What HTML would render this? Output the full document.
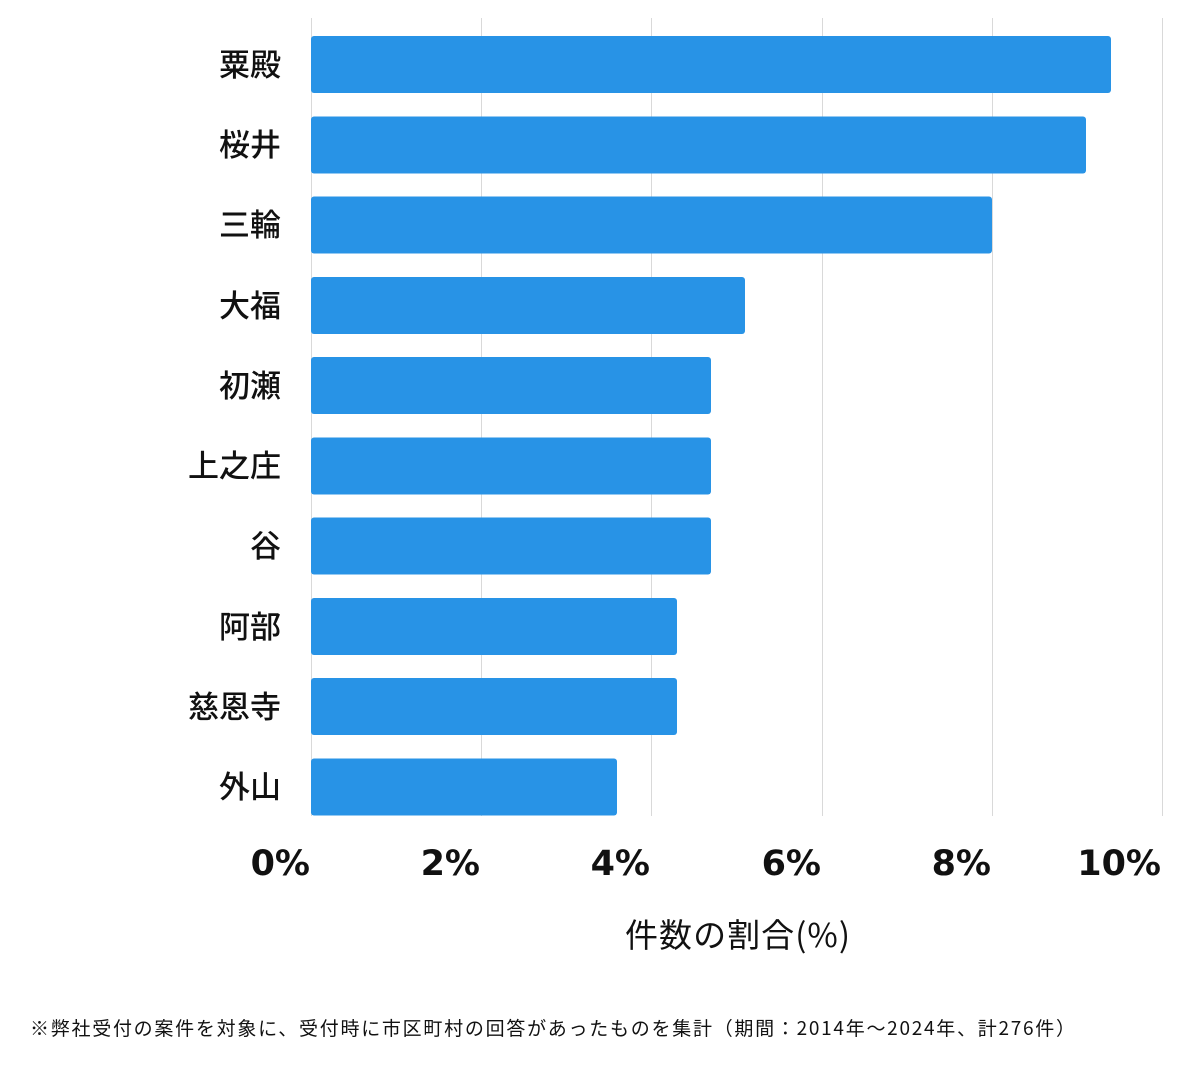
<!DOCTYPE html>
<html><head><meta charset="utf-8"><style>
body{margin:0;width:1200px;height:1069px;background:#fff;}
</style></head><body>
<svg width="1200" height="1069" xmlns="http://www.w3.org/2000/svg" font-family="'Noto Sans CJK JP',sans-serif">
<g stroke="#d9d9d9" stroke-width="1">
<line x1="311.5" y1="18" x2="311.5" y2="816"/>
<line x1="481.5" y1="18" x2="481.5" y2="816"/>
<line x1="651.5" y1="18" x2="651.5" y2="816"/>
<line x1="822.5" y1="18" x2="822.5" y2="816"/>
<line x1="992.5" y1="18" x2="992.5" y2="816"/>
<line x1="1162.5" y1="18" x2="1162.5" y2="816"/>
</g>
<g fill="#2893e6">
<rect x="311" y="36" width="800" height="57" rx="3"/>
<rect x="311" y="116.5" width="775" height="57" rx="3"/>
<rect x="311" y="196.5" width="681" height="57" rx="3"/>
<rect x="311" y="277" width="434" height="57" rx="3"/>
<rect x="311" y="357" width="400" height="57" rx="3"/>
<rect x="311" y="437.5" width="400" height="57" rx="3"/>
<rect x="311" y="517.5" width="400" height="57" rx="3"/>
<rect x="311" y="598" width="366" height="57" rx="3"/>
<rect x="311" y="678" width="366" height="57" rx="3"/>
<rect x="311" y="758.5" width="306" height="57" rx="3"/>
</g>
<g font-size="31" font-weight="500" text-anchor="end" fill="#111">
<text x="281" y="76">粟殿</text>
<text x="281" y="156">桜井</text>
<text x="281" y="236">三輪</text>
<text x="281" y="317">大福</text>
<text x="281" y="397">初瀬</text>
<text x="281" y="477">上之庄</text>
<text x="281" y="557">谷</text>
<text x="281" y="638">阿部</text>
<text x="281" y="718">慈恩寺</text>
<text x="281" y="798">外山</text>
</g>
<g font-size="35" font-weight="bold" text-anchor="end" fill="#111" font-family="'DejaVu Sans',sans-serif">
<text x="310" y="875">0%</text>
<text x="480" y="875">2%</text>
<text x="650" y="875">4%</text>
<text x="821" y="875">6%</text>
<text x="991" y="875">8%</text>
<text x="1161" y="875">10%</text>
</g>
<text x="625" y="947" font-size="33" textLength="225" fill="#111">件数の割合(%)</text>
<text x="30" y="1035" font-size="19" textLength="1045" fill="#111">※弊社受付の案件を対象に、受付時に市区町村の回答があったものを集計（期間：2014年～2024年、計276件）</text>
</svg>
</body></html>
